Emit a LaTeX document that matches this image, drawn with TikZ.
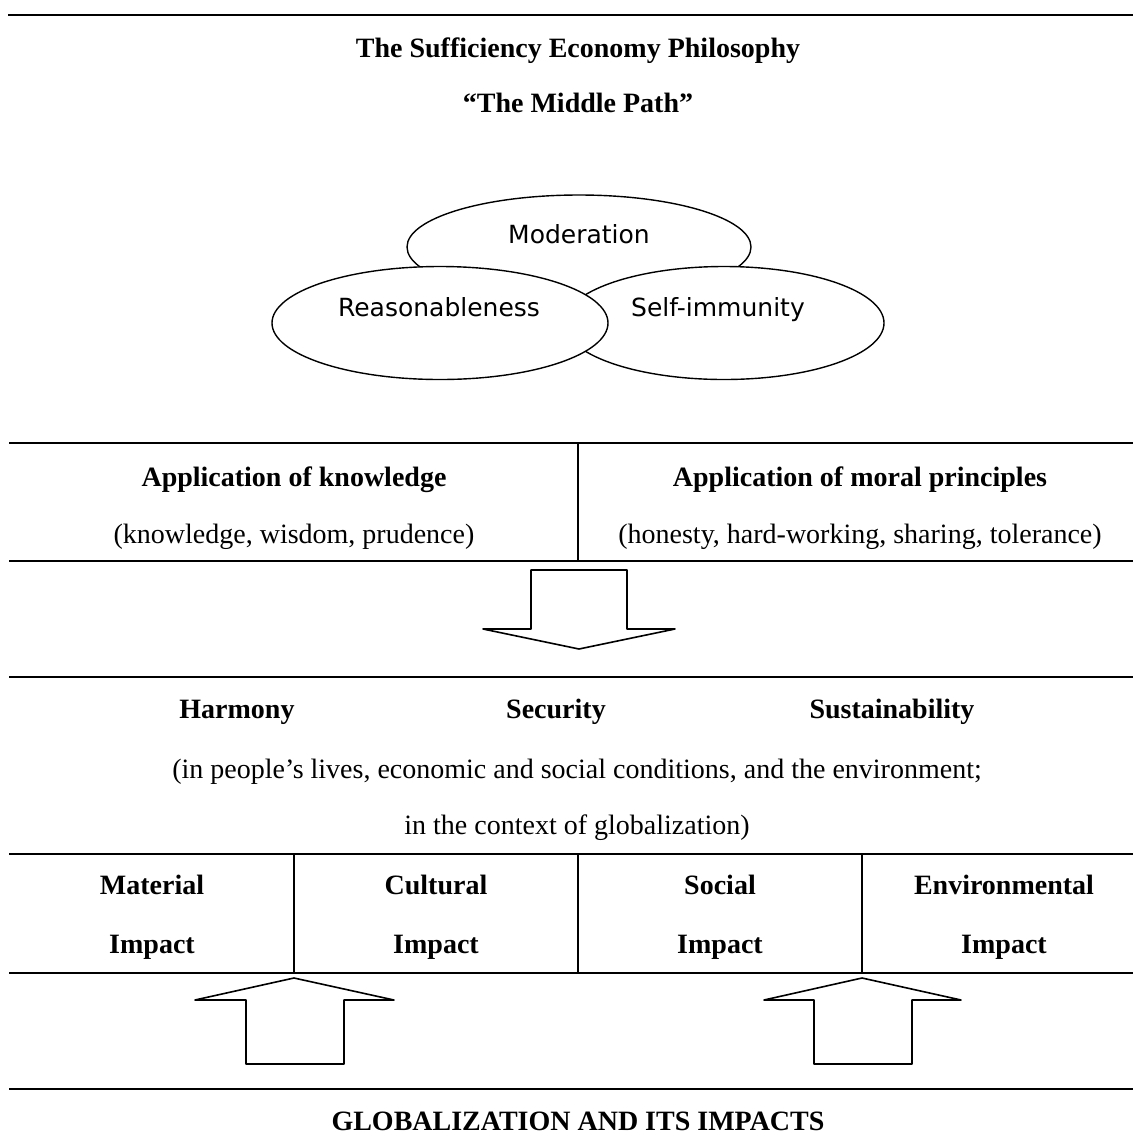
\documentclass[tikz,border=0pt]{standalone}
\usepackage{fontspec}
\setmainfont{Liberation Serif}
\newfontfamily\ovalfont{DejaVu Sans}
\usetikzlibrary{shapes.geometric}
\tikzset{
  head/.style={font=\fontsize{14}{16}\selectfont\bfseries, anchor=base},
  body/.style={font=\fontsize{14}{16}\selectfont, anchor=base},
  oval/.style={draw, ellipse, fill=white, inner sep=0pt, line width=0.7pt},
  word/.style={font=\ovalfont\fontsize{12.5}{15}\selectfont, anchor=base},
  rule/.style={line width=1.4pt},
  bar/.style={line width=0.6pt},
  block/.style={draw, fill=white, line width=0.8pt, line join=round},
}

\begin{document}
\begin{tikzpicture}[x=0.5pt, y=-0.5pt]
\useasboundingbox (0,0) rectangle (1133,1142);

        % rules
        \draw[rule] (8,15) -- (1133,15);
        \foreach \y in {443,561,677,854,973,1089}
            \draw[rule] (9,\y) -- (1133,\y);
        \draw[bar] (578,443) -- (578,561);
        \foreach \x in {294,578,862}
            \draw[bar] (\x,854) -- (\x,973);

        % title
        \node[head] (title) at (578,57) {The Sufficiency Economy Philosophy};
        \node[head] (path) at (578,112) {“The Middle Path”};

        % ovals
        \node[oval, minimum width=172pt, minimum height=52pt] (mod) at (579,247) {};
        \node[oval, minimum width=160pt, minimum height=56.5pt] (self) at (724,323) {};
        \node[oval, minimum width=168pt, minimum height=56.5pt] (reas) at (440,323) {};
        \node[word] (modtext) at (579,243) {Moderation};
        \node[word] (reastext) at (439,316) {Reasonableness};
        \node[word] (selftext) at (718,316) {Self-immunity};

        % application row
        \node[head] (know) at (294,486) {Application of knowledge};
        \node[body] (knowsub) at (294,543) {(knowledge, wisdom, prudence)};
        \node[head] (moral) at (860,486) {Application of moral principles};
        \node[body] (moralsub) at (860,543) {(honesty, hard-working, sharing, tolerance)};

        % outcomes
        \node[head] (harm) at (237,718) {Harmony};
        \node[head] (secu) at (556,718) {Security};
        \node[head] (sust) at (892,718) {Sustainability};
        \node[body] (ctxa) at (577,778) {(in people’s lives, economic and social conditions, and the environment;};
        \node[body] (ctxb) at (577,834) {in the context of globalization)};

        % impacts
        \foreach \x/\w [count=\i] in {152/Material,436/Cultural,720/Social,1004/Environmental} {
            \node[head] (imp\i) at (\x,894) {\w};
            \node[head] (impb\i) at (\x,953) {Impact};
        }
        \node[head] (glob) at (578,1130) {GLOBALIZATION AND ITS IMPACTS};

        % arrows
        \draw[block] (531,570) -- (627,570) -- (627,629) -- (675,629) -- (579,649) -- (483,629) -- (531,629) -- cycle;
        \draw[block] (246,1064) -- (344,1064) -- (344,1000) -- (394,1000) -- (294,978) -- (195,1000) -- (246,1000) -- cycle;
        \draw[block] (814,1064) -- (912,1064) -- (912,1000) -- (961,1000) -- (862,978) -- (764,1000) -- (814,1000) -- cycle;

\end{tikzpicture}
\end{document}
